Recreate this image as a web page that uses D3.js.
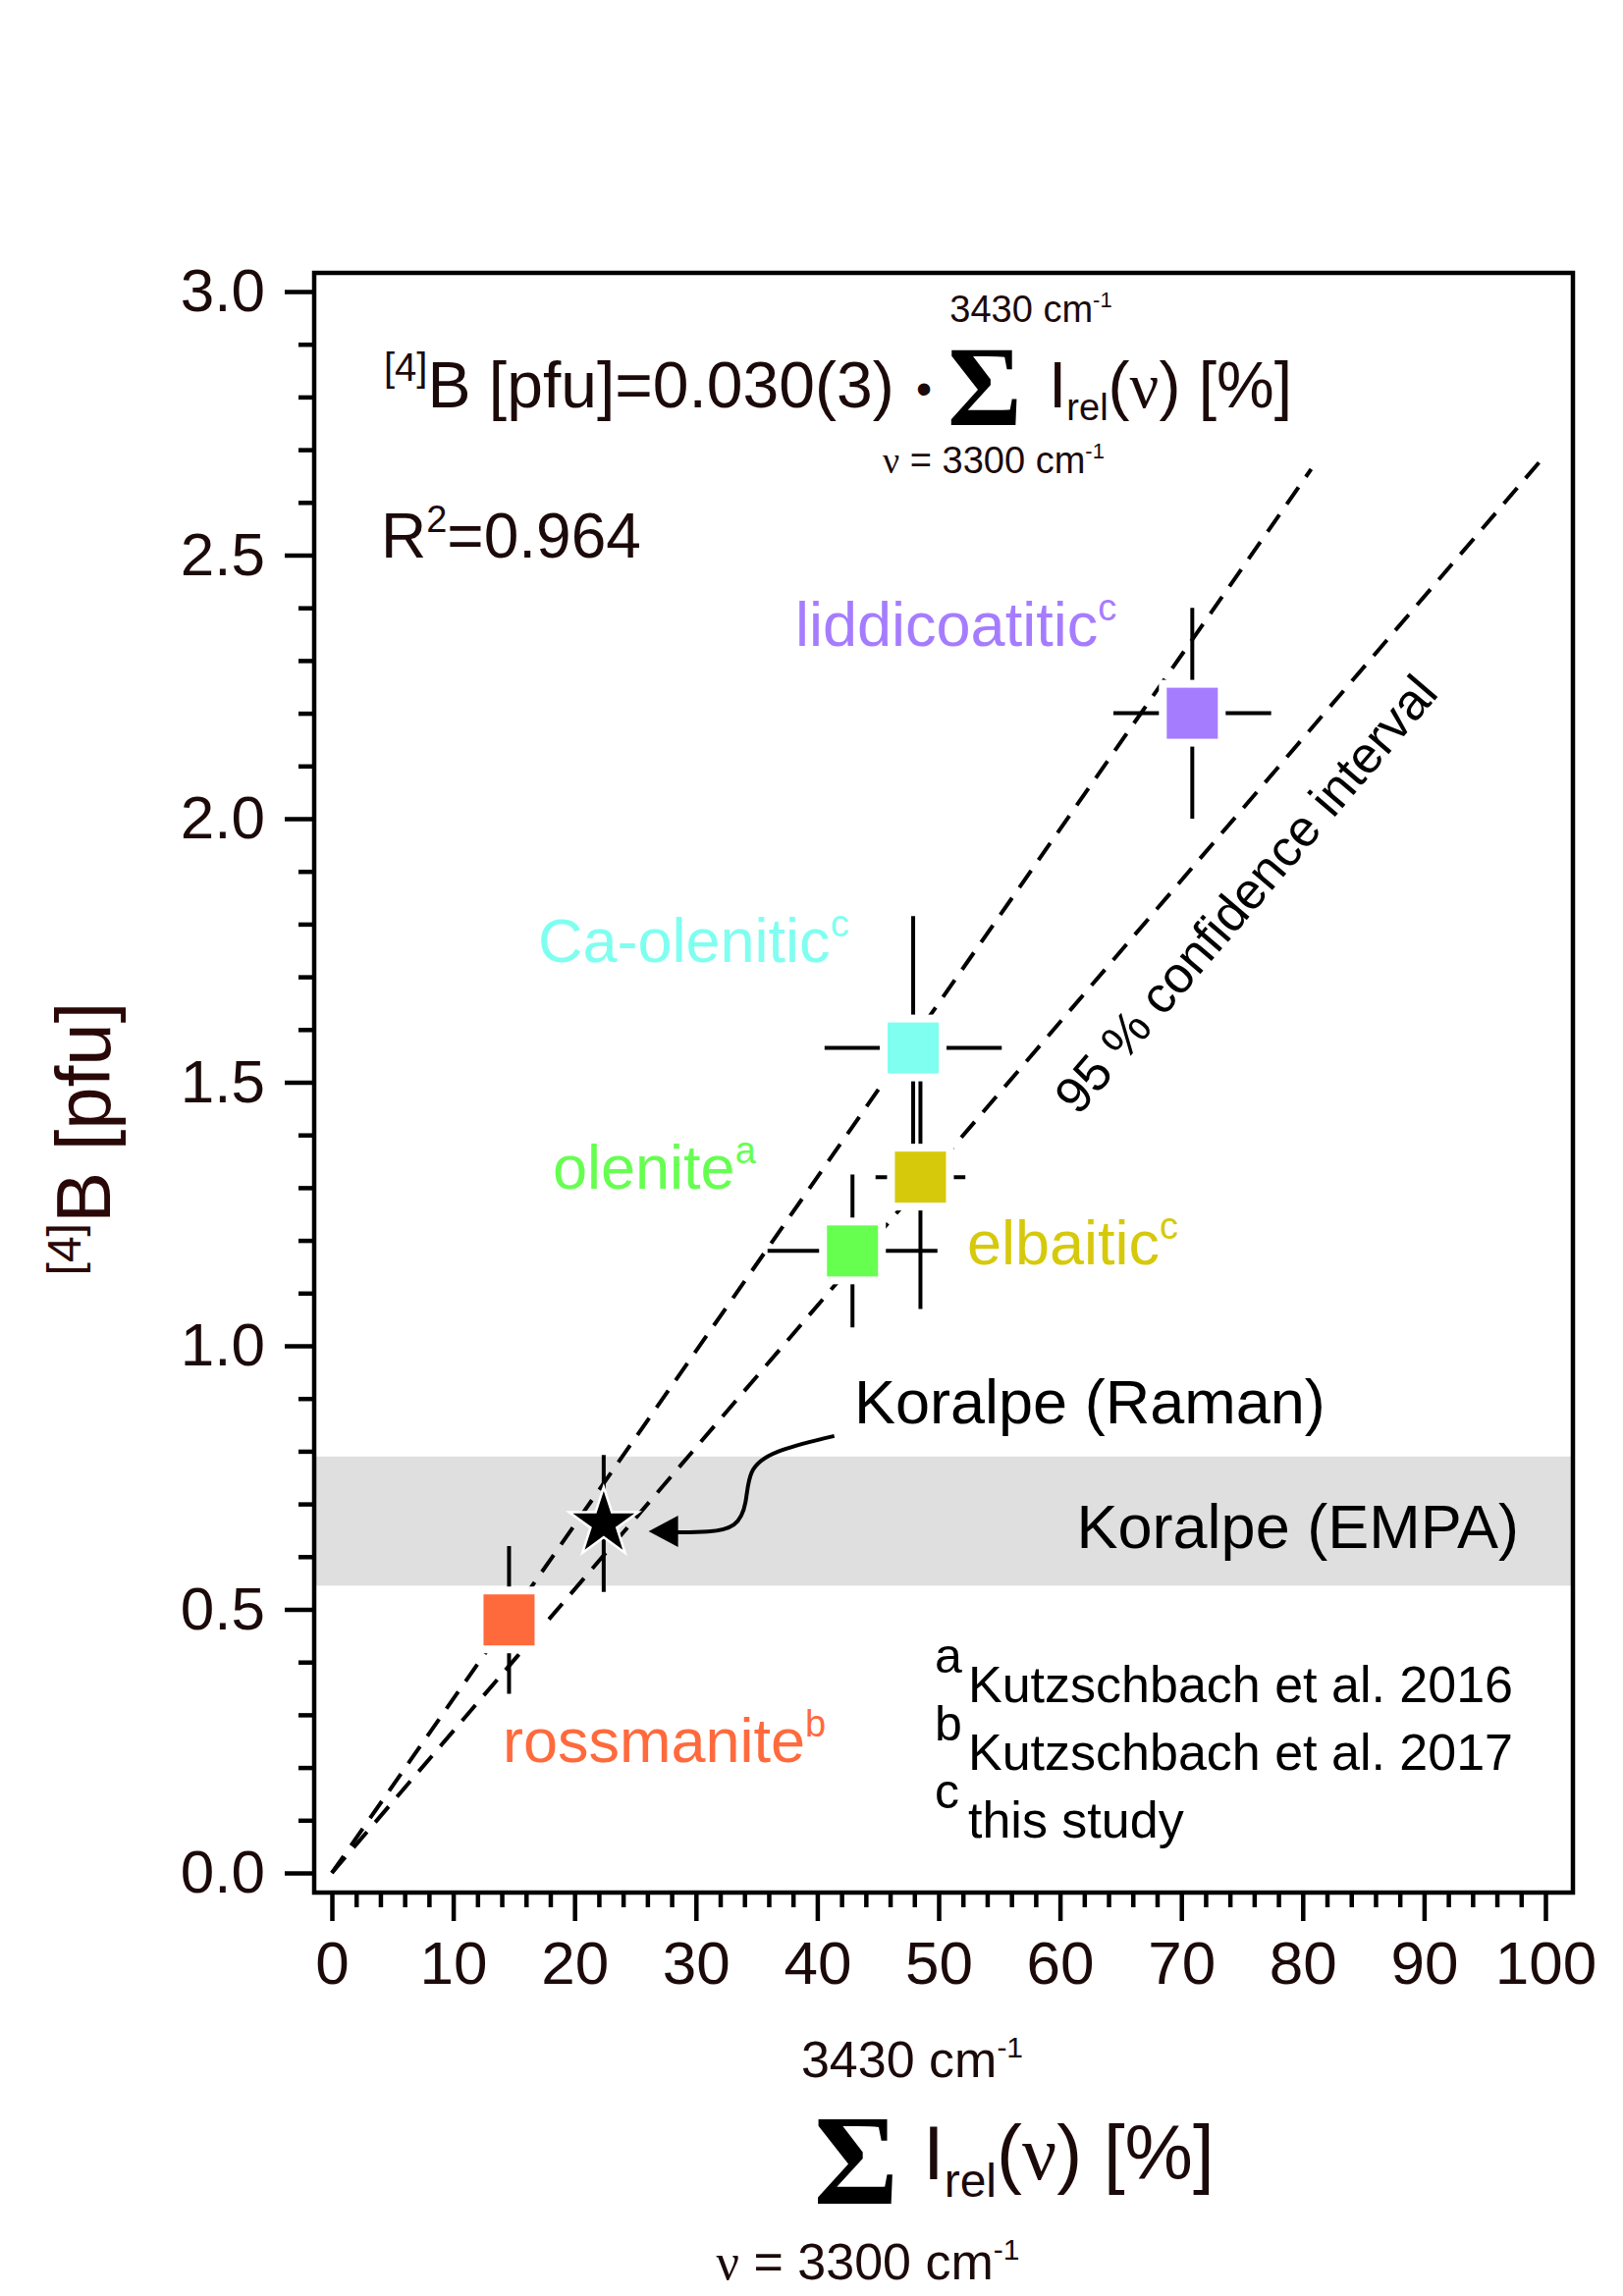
<!DOCTYPE html>
<html><head><meta charset="utf-8">
<script src="https://cdn.jsdelivr.net/npm/d3@7"></script>
<style>
html,body{margin:0;padding:0;background:#fff;}
svg text{font-family:"Liberation Sans",Arial,Helvetica,sans-serif;font-weight:400;}
</style></head>
<body>
<svg id="c" width="1653" height="2339"></svg>
<script>
// ---------- data ----------
const xTicks = [0,10,20,30,40,50,60,70,80,90,100];
const yTicks = [0.0,0.5,1.0,1.5,2.0,2.5,3.0];
const minerals = ["liddicoatitic","Ca-olenitic","elbaitic","olenite","rossmanite"];
const mineralRef = ["c","c","c","a","b"];
const mineralX = [70.9, 47.9, 48.5, 42.9, 14.6];
const mineralY = [2.20, 1.565, 1.32, 1.18, 0.48];
const mineralXErr = [6.5, 7.3, 3.7, 7.0, 0];
const mineralYErr = [0.20, 0.25, 0.25, 0.145, 0.14];
const mineralColor = ["#a67cff","#7ffff0","#d6c90c","#66ff50","#ff6a3d"];
const koralpeX = [22.4];
const koralpeY = [0.663];
const koralpeYErr = [0.13];
const empaBand = [0.545, 0.79];
const fitSlopes = [0.033, 0.0269];
const fitXMax = [80.7, 100];
const refLetters = ["a","b","c"];
const refTexts = ["Kutzschbach et al. 2016","Kutzschbach et al. 2017","this study"];

// ---------- layout ----------
const svg = d3.select("#c");
const frame = {l:320, r:1602, t:278, b:1928};
const x = d3.scaleLinear().domain([0,100]).range([338,1574]);
const y = d3.scaleLinear().domain([0,3]).range([1908,297]);
const ink = "#1c0a0a";
const serif = "'Liberation Serif','Times New Roman',serif";

svg.append("rect").attr("width",1653).attr("height",2339).attr("fill","#fff");

// gray EMPA band
svg.append("rect").attr("x",frame.l).attr("width",frame.r-frame.l)
  .attr("y",y(empaBand[1])).attr("height",y(empaBand[0])-y(empaBand[1]))
  .attr("fill","#dfdfdf");

// fit / confidence lines
fitSlopes.forEach((s,i)=>{
  svg.append("line").attr("x1",x(0)).attr("y1",y(0))
    .attr("x2",x(fitXMax[i])).attr("y2",y(s*fitXMax[i]))
    .attr("stroke","#000").attr("stroke-width",4)
    .attr("stroke-dasharray","21,13");
});

// error bars
const eb = svg.append("g").attr("stroke","#000").attr("stroke-width",4);
minerals.forEach((m,i)=>{
  eb.append("line").attr("x1",x(mineralX[i])).attr("x2",x(mineralX[i]))
    .attr("y1",y(mineralY[i]-mineralYErr[i])).attr("y2",y(mineralY[i]+mineralYErr[i]));
  if(mineralXErr[i]>0)
  eb.append("line").attr("y1",y(mineralY[i])).attr("y2",y(mineralY[i]))
    .attr("x1",x(mineralX[i]-mineralXErr[i])).attr("x2",x(mineralX[i]+mineralXErr[i]));
});
koralpeX.forEach((kx,i)=>{
  eb.append("line").attr("x1",x(kx)).attr("x2",x(kx))
    .attr("y1",y(koralpeY[i]-koralpeYErr[i])).attr("y2",y(koralpeY[i]+koralpeYErr[i]));
});

// square markers with white halo
const sq = 52, halo = 16;
minerals.forEach((m,i)=>{
  svg.append("rect").attr("x",x(mineralX[i])-(sq+halo)/2).attr("y",y(mineralY[i])-(sq+halo)/2)
    .attr("width",sq+halo).attr("height",sq+halo).attr("fill","#fff");
});
minerals.forEach((m,i)=>{
  svg.append("rect").attr("x",x(mineralX[i])-sq/2).attr("y",y(mineralY[i])-sq/2)
    .attr("width",sq).attr("height",sq).attr("fill",mineralColor[i]);
});

// star
const starSize = 1220;
koralpeX.forEach((kx,i)=>{
  svg.append("path").attr("d",d3.symbol(d3.symbolStar,starSize)())
    .attr("transform",`translate(${x(kx)},${y(koralpeY[i])})`)
    .attr("fill","#000").attr("stroke","#fff").attr("stroke-width",5).attr("paint-order","stroke");
});

// arrow (annotation) in data units
const arrowPts = [[41.4,0.829],[36.2,0.80],[34.3,0.765],[34.2,0.70],[33.4,0.655],[31.0,0.646],[28.4,0.646]];
svg.append("path").attr("d",d3.line().x(d=>x(d[0])).y(d=>y(d[1])).curve(d3.curveBasis)(arrowPts))
  .attr("fill","none").attr("stroke","#000").attr("stroke-width",4);
const tip=[26.1,0.648];
svg.append("path").attr("d",`M${x(tip[0])},${y(tip[1])}L${x(tip[0])+30},${y(tip[1])-16}L${x(tip[0])+30},${y(tip[1])+16}Z`).attr("fill","#000");

// mineral labels
const labelPos = [[810,658],[548,980],[985,1288],[563,1211],[512,1795]];
minerals.forEach((m,i)=>{
  const t = svg.append("text").attr("x",labelPos[i][0]).attr("y",labelPos[i][1])
    .attr("font-size",63).attr("fill",mineralColor[i]);
  t.append("tspan").text(m);
  t.append("tspan").attr("font-size",38).attr("dy",-26).text(mineralRef[i]);
});
svg.append("text").attr("x",870).attr("y",1450).attr("font-size",63).attr("fill","#000").text("Koralpe (Raman)");
svg.append("text").attr("x",1547).attr("y",1577).attr("font-size",63).attr("fill","#000").attr("text-anchor","end").text("Koralpe (EMPA)");

// confidence interval label
const ang = Math.atan2(y(fitSlopes[1]*100)-y(0), x(100)-x(0))*180/Math.PI;
svg.append("text").attr("font-size",52).attr("fill","#000").attr("text-anchor","middle")
  .attr("transform",`translate(${x(76.4)},${y(1.835)}) rotate(${ang})`)
  .text("95 % confidence interval");

// references
refLetters.forEach((l,i)=>{
  const by = 1734 + i*69;
  svg.append("text").attr("x",952).attr("y",by-30).attr("font-size",50).attr("fill","#000").text(l);
  svg.append("text").attr("x",986).attr("y",by).attr("font-size",52).attr("fill","#000").text(refTexts[i]);
});

// equation
const eq = svg.append("text").attr("x",391).attr("y",415).attr("font-size",66).attr("fill",ink);
eq.append("tspan").attr("font-size",40).attr("dy",-27).text("[4]");
eq.append("tspan").attr("dy",27).text("B [pfu]=0.030(3)");
svg.append("text").attr("x",941).attr("y",412).attr("font-size",46).attr("fill",ink).attr("text-anchor","middle").text("•");
svg.append("text").attr("x",1003).attr("y",433).attr("font-size",116).attr("text-anchor","middle")
  .style("font-family",serif).style("font-weight","700").attr("fill","#000").text("Σ");
const eq2 = svg.append("text").attr("x",1068).attr("y",415).attr("font-size",66).attr("fill",ink);
eq2.append("tspan").text("I");
eq2.append("tspan").attr("font-size",38).attr("dy",13).text("rel");
eq2.append("tspan").attr("dy",-13).text("(");
eq2.append("tspan").style("font-family",serif).text("ν");
eq2.append("tspan").text(") [%]");
const up1 = svg.append("text").attr("x",1050).attr("y",328).attr("font-size",38).attr("fill",ink).attr("text-anchor","middle");
up1.append("tspan").text("3430 cm");
up1.append("tspan").attr("font-size",22).attr("dy",-15).text("-1");
const lo1 = svg.append("text").attr("x",1012).attr("y",482).attr("font-size",38).attr("fill",ink).attr("text-anchor","middle");
lo1.append("tspan").style("font-family",serif).text("ν");
lo1.append("tspan").text(" = 3300 cm");
lo1.append("tspan").attr("font-size",22).attr("dy",-15).text("-1");

const r2 = svg.append("text").attr("x",388).attr("y",568).attr("font-size",64).attr("fill",ink);
r2.append("tspan").text("R");
r2.append("tspan").attr("font-size",38).attr("dy",-26).text("2");
r2.append("tspan").attr("dy",26).text("=0.964");

// frame
svg.append("rect").attr("x",frame.l).attr("y",frame.t).attr("width",frame.r-frame.l).attr("height",frame.b-frame.t)
  .attr("fill","none").attr("stroke","#000").attr("stroke-width",4.5);

// axes
function styleAxis(g){
  g.select(".domain").remove();
  g.selectAll(".tick line").attr("stroke","#000").attr("stroke-width",4.5);
  g.selectAll(".tick text").attr("fill",ink).attr("font-size",62)
   .style("font-family","'Liberation Sans',Arial,sans-serif");
}
const yMinor = d3.range(0,31).map(d=>d/10).filter(v=>Math.round(v*10)%5!==0);
const xMinor = d3.range(0,101,2).filter(v=>v%10!==0);
svg.append("g").attr("transform",`translate(${frame.l},0)`)
  .call(d3.axisLeft(y).tickValues(yMinor).tickSize(16).tickFormat("")).call(styleAxis);
svg.append("g").attr("transform",`translate(${frame.l},0)`)
  .call(d3.axisLeft(y).tickValues(yTicks).tickSize(30).tickPadding(20).tickFormat(d3.format(".1f"))).call(styleAxis);
svg.append("g").attr("transform",`translate(0,${frame.b})`)
  .call(d3.axisBottom(x).tickValues(xMinor).tickSize(15).tickFormat("")).call(styleAxis);
svg.append("g").attr("transform",`translate(0,${frame.b})`)
  .call(d3.axisBottom(x).tickValues(xTicks).tickSize(29).tickPadding(20).tickFormat(d3.format("d"))).call(styleAxis);

// y title
const yt = svg.append("text").attr("transform","translate(112,1160) rotate(-90)")
  .attr("text-anchor","middle").attr("font-size",78).attr("fill","#2a0808");
yt.append("tspan").attr("font-size",48).attr("dy",-30).text("[4]");
yt.append("tspan").attr("dy",30).text("B [pfu]");

// x title
const xu = svg.append("text").attr("x",929).attr("y",2116).attr("font-size",52).attr("fill",ink).attr("text-anchor","middle");
xu.append("tspan").text("3430 cm");
xu.append("tspan").attr("font-size",30).attr("dy",-20).text("-1");
svg.append("text").attr("x",872).attr("y",2245).attr("font-size",132).attr("text-anchor","middle")
  .style("font-family",serif).style("font-weight","700").attr("fill","#000").text("Σ");
const xm = svg.append("text").attr("x",940).attr("y",2220).attr("font-size",78).attr("fill",ink);
xm.append("tspan").text("I");
xm.append("tspan").attr("font-size",48).attr("dy",18).text("rel");
xm.append("tspan").attr("dy",-18).text("(");
xm.append("tspan").style("font-family",serif).text("ν");
xm.append("tspan").text(") [%]");
const xl = svg.append("text").attr("x",884).attr("y",2322).attr("font-size",52).attr("fill",ink).attr("text-anchor","middle");
xl.append("tspan").style("font-family",serif).text("ν");
xl.append("tspan").text(" = 3300 cm");
xl.append("tspan").attr("font-size",30).attr("dy",-20).text("-1");
</script>
</body></html>
